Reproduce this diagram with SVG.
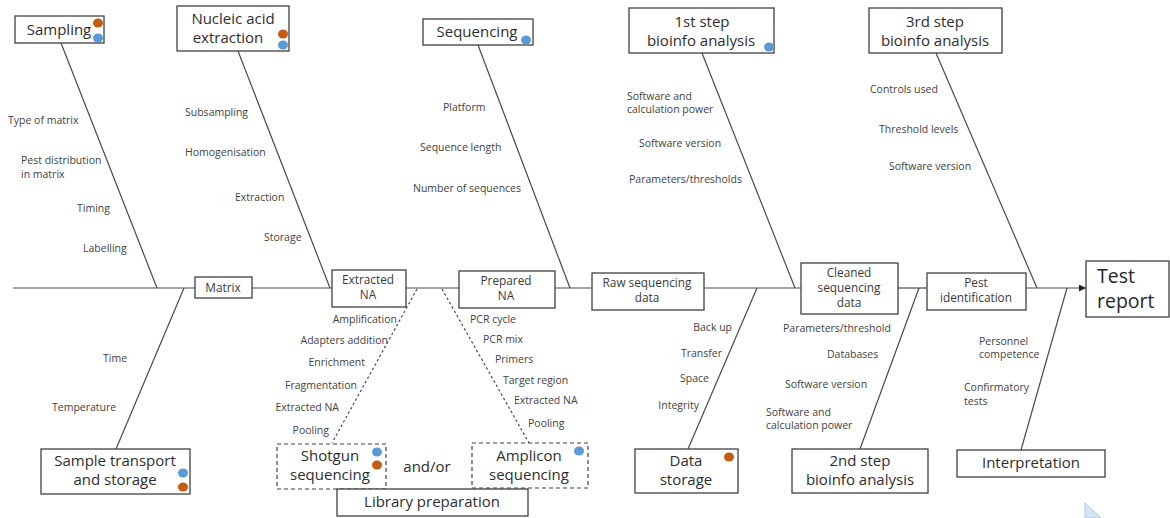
<svg xmlns="http://www.w3.org/2000/svg" width="1170" height="518" viewBox="0 0 1170 518">
  <defs>
    <marker id="arrow" viewBox="0 0 10 10" refX="10" refY="5" markerWidth="7" markerHeight="7" markerUnits="userSpaceOnUse" orient="auto">
      <path d="M0,0 L10,5 L0,10 z" fill="#262626"/>
    </marker>
    <style>
      .box { fill: #ffffff; stroke: #404040; stroke-width: 1.3; }
      .dbox { fill: #ffffff; stroke: #404040; stroke-width: 1.2; stroke-dasharray: 4 3; }
      .line { stroke: #4a4a4a; stroke-width: 1.2; fill: none; }
      .dash { stroke: #4a4a4a; stroke-width: 1.2; fill: none; stroke-dasharray: 2.5 2.5; }
      .big { font-family: "Open Sans", "Liberation Sans", sans-serif; font-size: 15px; fill: #2e2e2e; text-anchor: middle; }
      .mid { font-family: "Open Sans", "Liberation Sans", sans-serif; font-size: 11.8px; fill: #3a3a3a; text-anchor: middle; }
      .lbl { font-family: "Open Sans", "Liberation Sans", sans-serif; font-size: 10.5px; fill: #3f3f3f; }
      .end { text-anchor: end; }
      .big2 { font-family: "Open Sans", "Liberation Sans", sans-serif; font-size: 19.5px; fill: #262626; }
      .org { fill: #c55a11; }
      .blu { fill: #5b9bd5; }
    </style>
  </defs>

  <!-- connectors: spine and bones -->
  <g id="connectors">
    <line class="line" x1="13" y1="288" x2="195" y2="288"/>
    <line class="line" x1="252" y1="288" x2="332" y2="288"/>
    <line class="line" x1="406" y1="288" x2="459" y2="288"/>
    <line class="line" x1="555" y1="288" x2="592" y2="288"/>
    <line class="line" x1="704" y1="288" x2="801" y2="288"/>
    <line class="line" x1="898" y1="288" x2="927" y2="288"/>
    <line class="line" x1="1026" y1="288" x2="1086" y2="288" marker-end="url(#arrow)"/>

    <line class="line" x1="61" y1="43" x2="157" y2="288"/>
    <line class="line" x1="238" y1="51" x2="330" y2="288"/>
    <line class="line" x1="478" y1="45" x2="570" y2="288"/>
    <line class="line" x1="702" y1="53" x2="795" y2="288"/>
    <line class="line" x1="936" y1="53" x2="1037" y2="288"/>

    <line class="line" x1="184" y1="288" x2="116" y2="449"/>
    <line class="line" x1="757" y1="288" x2="688" y2="449"/>
    <line class="line" x1="919" y1="288" x2="860" y2="449"/>
    <line class="line" x1="1067" y1="288" x2="1021" y2="450"/>

    <line class="dash" x1="417" y1="289" x2="332" y2="443"/>
    <line class="dash" x1="442" y1="289" x2="529" y2="443"/>
  </g>

  <!-- cause labels -->
  <g id="labels">
    <text class="lbl" x="8" y="124">Type of matrix</text>
    <text class="lbl" x="21" y="164">Pest distribution</text>
    <text class="lbl" x="21" y="178">in matrix</text>
    <text class="lbl" x="77" y="212">Timing</text>
    <text class="lbl" x="83" y="252">Labelling</text>

    <text class="lbl" x="185" y="116">Subsampling</text>
    <text class="lbl" x="185" y="156">Homogenisation</text>
    <text class="lbl" x="235" y="201">Extraction</text>
    <text class="lbl" x="264" y="241">Storage</text>

    <text class="lbl" x="443" y="111">Platform</text>
    <text class="lbl" x="420" y="151">Sequence  length</text>
    <text class="lbl" x="413" y="192">Number  of sequences</text>

    <text class="lbl" x="627" y="100">Software and</text>
    <text class="lbl" x="627" y="113">calculation power</text>
    <text class="lbl" x="639" y="147">Software version</text>
    <text class="lbl" x="629" y="183">Parameters/thresholds</text>

    <text class="lbl" x="870" y="93">Controls used</text>
    <text class="lbl" x="879" y="133">Threshold levels</text>
    <text class="lbl" x="889" y="170">Software version</text>

    <text class="lbl" x="103" y="362">Time</text>
    <text class="lbl" x="52" y="411">Temperature</text>

    <text class="lbl end" x="397" y="323">Amplification</text>
    <text class="lbl end" x="388" y="344">Adapters addition</text>
    <text class="lbl end" x="365" y="366">Enrichment</text>
    <text class="lbl end" x="357" y="389">Fragmentation</text>
    <text class="lbl end" x="339" y="411">Extracted NA</text>
    <text class="lbl end" x="329" y="434">Pooling</text>

    <text class="lbl" x="470" y="323">PCR cycle</text>
    <text class="lbl" x="483" y="343">PCR mix</text>
    <text class="lbl" x="495" y="363">Primers</text>
    <text class="lbl" x="503" y="384">Target region</text>
    <text class="lbl" x="514" y="404">Extracted NA</text>
    <text class="lbl" x="528" y="427">Pooling</text>

    <text class="lbl end" x="732" y="331">Back up</text>
    <text class="lbl end" x="722" y="357">Transfer</text>
    <text class="lbl end" x="709" y="382">Space</text>
    <text class="lbl end" x="699" y="409">Integrity</text>

    <text class="lbl" x="783" y="332">Parameters/threshold</text>
    <text class="lbl" x="827" y="358">Databases</text>
    <text class="lbl" x="785" y="388">Software version</text>
    <text class="lbl" x="766" y="416">Software and</text>
    <text class="lbl" x="766" y="429">calculation power</text>

    <text class="lbl" x="979" y="345">Personnel</text>
    <text class="lbl" x="979" y="358">competence</text>
    <text class="lbl" x="964" y="391">Confirmatory</text>
    <text class="lbl" x="964" y="405">tests</text>
  </g>

  <!-- top category nodes -->
  <g id="sampling">
    <rect class="box" x="15" y="16" width="89" height="27"/>
    <text class="big" x="59" y="35">Sampling</text>
    <ellipse class="org" cx="98" cy="23" rx="5" ry="4.5"/>
    <ellipse class="blu" cx="98" cy="38" rx="5" ry="4.5"/>
  </g>
  <g id="nucleic-acid-extraction">
    <rect class="box" x="177" y="6" width="112" height="45"/>
    <text class="big" x="233" y="24">Nucleic acid</text>
    <text class="big" x="228" y="43">extraction</text>
    <ellipse class="org" cx="283" cy="34" rx="5" ry="4.5"/>
    <ellipse class="blu" cx="283" cy="45" rx="5" ry="4.5"/>
  </g>
  <g id="sequencing">
    <rect class="box" x="423" y="19" width="110" height="26"/>
    <text class="big" x="477" y="37">Sequencing</text>
    <ellipse class="blu" cx="526" cy="40" rx="5" ry="4.5"/>
  </g>
  <g id="bioinfo-1">
    <rect class="box" x="629" y="8" width="145" height="45"/>
    <text class="big" x="702" y="27">1st step</text>
    <text class="big" x="701" y="46">bioinfo analysis</text>
    <ellipse class="blu" cx="769" cy="47" rx="5" ry="4.5"/>
  </g>
  <g id="bioinfo-3">
    <rect class="box" x="869" y="8" width="133" height="45"/>
    <text class="big" x="935" y="27">3rd step</text>
    <text class="big" x="935" y="46">bioinfo analysis</text>
  </g>

  <!-- spine nodes -->
  <g id="matrix">
    <rect class="box" x="195" y="277" width="57" height="21"/>
    <text class="mid" x="223" y="292">Matrix</text>
  </g>
  <g id="extracted-na">
    <rect class="box" x="332" y="270" width="74" height="37"/>
    <text class="mid" x="368" y="284">Extracted</text>
    <text class="mid" x="368" y="299">NA</text>
  </g>
  <g id="prepared-na">
    <rect class="box" x="459" y="271" width="96" height="37"/>
    <text class="mid" x="506" y="285">Prepared</text>
    <text class="mid" x="506" y="300">NA</text>
  </g>
  <g id="raw-data">
    <rect class="box" x="592" y="273" width="112" height="37"/>
    <text class="mid" x="647" y="287">Raw sequencing</text>
    <text class="mid" x="647" y="302">data</text>
  </g>
  <g id="cleaned-data">
    <rect class="box" x="801" y="263" width="97" height="51"/>
    <text class="mid" x="849" y="277">Cleaned</text>
    <text class="mid" x="849" y="292">sequencing</text>
    <text class="mid" x="849" y="307">data</text>
  </g>
  <g id="pest-identification">
    <rect class="box" x="927" y="273" width="99" height="37"/>
    <text class="mid" x="976" y="287">Pest</text>
    <text class="mid" x="976" y="302">identification</text>
  </g>
  <g id="test-report">
    <rect class="box" x="1086" y="261" width="83" height="56"/>
    <text class="big2" x="1097" y="283">Test</text>
    <text class="big2" x="1097" y="308">report</text>
  </g>

  <!-- bottom category nodes -->
  <g id="sample-transport">
    <rect class="box" x="41" y="449" width="149" height="45"/>
    <text class="big" x="115" y="466">Sample transport</text>
    <text class="big" x="115" y="485">and storage</text>
    <ellipse class="blu" cx="183" cy="473" rx="5" ry="4.5"/>
    <ellipse class="org" cx="183" cy="487" rx="5" ry="4.5"/>
  </g>
  <g id="shotgun">
    <rect class="dbox" x="277" y="444" width="109" height="45"/>
    <text class="big" x="330" y="461">Shotgun</text>
    <text class="big" x="330" y="480">sequencing</text>
    <ellipse class="blu" cx="377" cy="452" rx="5" ry="4.5"/>
    <ellipse class="org" cx="377" cy="465" rx="5" ry="4.5"/>
  </g>
  <g id="and-or">
    <text class="big" x="427" y="472">and/or</text>
  </g>
  <g id="amplicon">
    <rect class="dbox" x="472" y="443" width="116" height="45"/>
    <text class="big" x="529" y="461">Amplicon</text>
    <text class="big" x="529" y="480">sequencing</text>
    <ellipse class="blu" cx="579" cy="451" rx="5" ry="4.5"/>
  </g>
  <g id="library-preparation">
    <rect class="box" x="337" y="489" width="191" height="27"/>
    <text class="big" x="432" y="507">Library preparation</text>
  </g>
  <g id="data-storage">
    <rect class="box" x="635" y="449" width="103" height="44"/>
    <text class="big" x="686" y="466">Data</text>
    <text class="big" x="686" y="485">storage</text>
    <ellipse class="org" cx="729" cy="457" rx="5" ry="4.5"/>
  </g>
  <g id="bioinfo-2">
    <rect class="box" x="792" y="449" width="136" height="44"/>
    <text class="big" x="860" y="466">2nd step</text>
    <text class="big" x="860" y="485">bioinfo analysis</text>
  </g>
  <g id="interpretation">
    <rect class="box" x="957" y="450" width="148" height="27"/>
    <text class="big" x="1031" y="468">Interpretation</text>
  </g>

  <!-- pointer glyph, bottom right -->
  <polygon points="1085,503 1085,518 1101,518" fill="#d6e6f6" stroke="#a9c9e8" stroke-width="1"/>
</svg>
